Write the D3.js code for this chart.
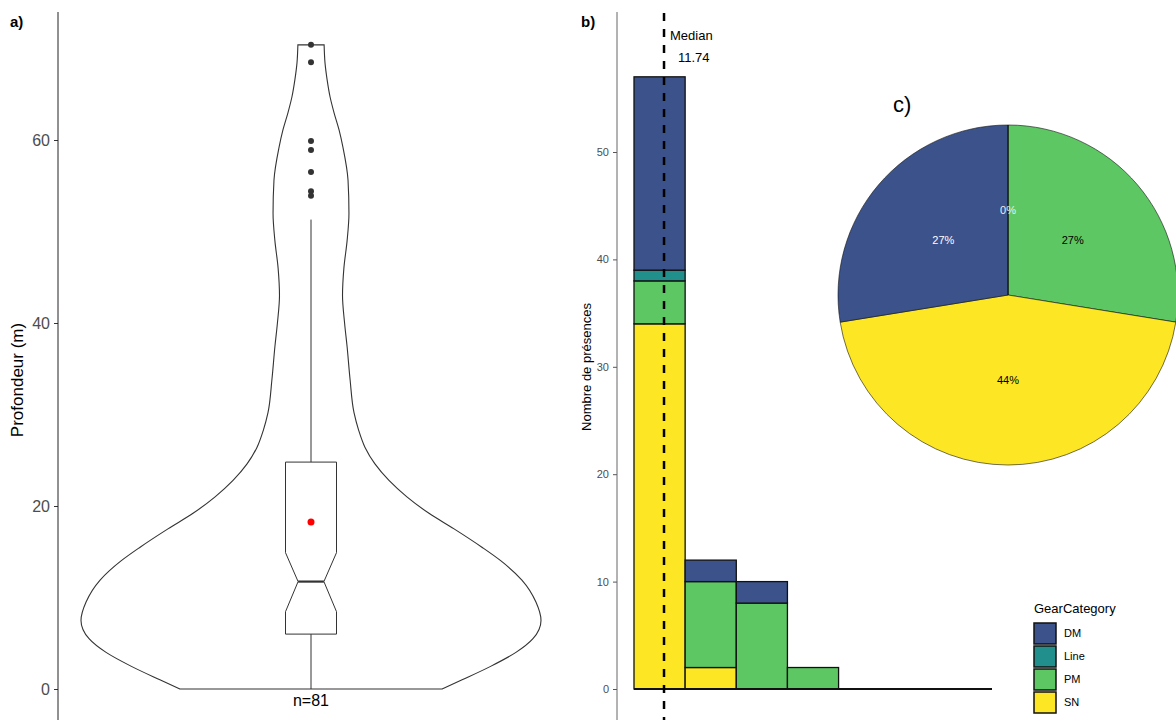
<!DOCTYPE html>
<html>
<head>
<meta charset="utf-8">
<script src="https://cdn.jsdelivr.net/npm/d3@7"></script>
<style>
  html, body { margin: 0; padding: 0; background: #fff; }
  svg { display: block; }
  text { font-family: "Liberation Sans", Arial, sans-serif; }
</style>
</head>
<body>
<svg id="chart" width="1176" height="720"></svg>
<script>
// ---------------- DATA ----------------
// Panel a: depth distribution (m)
const depthTicks = [0, 20, 40, 60];
const violinDepth   = [0, 1.0, 2.5, 4.0, 5.5, 7.5, 9.5, 11.9, 14.0, 15.5, 17.5, 19.2, 21.0, 22.8, 24.6, 26.4, 28.3, 30.2, 33.8, 37.4, 40.0, 43.0, 46.0, 49.0, 52.0, 55.6, 59.2, 61.1, 63.0, 64.7, 66.6, 68.4, 70.4];
const violinDensity = [0.570, 0.657, 0.783, 0.891, 0.965, 1.000, 0.978, 0.917, 0.826, 0.743, 0.622, 0.513, 0.417, 0.339, 0.278, 0.235, 0.207, 0.187, 0.170, 0.157, 0.146, 0.137, 0.143, 0.157, 0.165, 0.161, 0.139, 0.122, 0.100, 0.083, 0.070, 0.061, 0.057];
const boxWhiskerLow = 0;
const boxQ1 = 6.0;
const boxNotchLow = 8.45;
const boxMedian = 11.74;
const boxNotchHigh = 14.9;
const boxQ3 = 24.8;
const boxWhiskerHigh = 51.3;
const depthMean = 18.25;
const depthOutliers = [70.4, 68.5, 59.9, 58.9, 56.5, 54.4, 53.9];
const sampleLabel = "n=81";

// Panel b: stacked histogram
const binStart = [0, 20, 40, 60, 80, 100, 120];
const binWidth = 20;
const countDM   = [18, 2, 2, 0, 0, 0, 0];
const countLine = [1, 0, 0, 0, 0, 0, 0];
const countPM   = [4, 8, 8, 2, 0, 0, 0];
const countSN   = [34, 2, 0, 0, 0, 0, 0];
const countTicks = [0, 10, 20, 30, 40, 50];
const medianValue = 11.74;
const gearCategories = ["DM", "Line", "PM", "SN"];
const gearColors = ["#3B528B", "#21908C", "#5DC863", "#FDE725"];

// Panel c: pie shares (%), clockwise from 12 o'clock
const pieCategories = ["PM", "SN", "DM", "Line"];
const piePercent = [27, 44, 27, 0];
const pieLabelColors = ["#000000", "#000000", "#ffffff", "#eeeeee"];

// ---------------- DRAW ----------------
const svg = d3.select("#chart");
const color = d3.scaleOrdinal().domain(gearCategories).range(gearColors);

// ===== Panel a =====
const gA = svg.append("g");
const yA = d3.scaleLinear().domain([0, 60]).range([689, 140]);
const cxA = 311;
const wA = d3.scaleLinear().domain([0, 1]).range([0, 230]);

gA.append("text").attr("x", 10).attr("y", 27).attr("font-size", 15).attr("font-weight", "bold").text("a)");

const axA = gA.append("g").attr("transform", "translate(58,0)")
  .call(d3.axisLeft(yA).tickValues(depthTicks).tickSize(4).tickPadding(4));
axA.select(".domain").remove();
axA.selectAll(".tick line").attr("stroke", "#333");
axA.selectAll(".tick text").attr("font-size", 16).attr("fill", "#4d4d4d").attr("font-family", "Liberation Sans, Arial, sans-serif");
gA.append("line").attr("x1", 58).attr("x2", 58).attr("y1", 12).attr("y2", 720).attr("stroke", "#222").attr("stroke-width", 1);

gA.append("text")
  .attr("transform", `translate(23,380) rotate(-90)`)
  .attr("text-anchor", "middle").attr("font-size", 17).attr("fill", "#000")
  .text("Profondeur (m)");

const violinData = violinDepth.map((v, i) => ({ v, d: violinDensity[i] }));
const violinArea = d3.area()
  .curve(d3.curveMonotoneY)
  .y(d => yA(d.v))
  .x0(d => cxA - wA(d.d))
  .x1(d => cxA + wA(d.d));
gA.append("path").datum(violinData).attr("d", violinArea)
  .attr("fill", "none").attr("stroke", "#333").attr("stroke-width", 1.1);

// box
const hwBox = 25.5, hwNotch = 12.9;
const boxPath = d3.path();
boxPath.moveTo(cxA - hwBox, yA(boxQ3));
boxPath.lineTo(cxA - hwBox, yA(boxNotchHigh));
boxPath.lineTo(cxA - hwNotch, yA(boxMedian));
boxPath.lineTo(cxA - hwBox, yA(boxNotchLow));
boxPath.lineTo(cxA - hwBox, yA(boxQ1));
boxPath.lineTo(cxA + hwBox, yA(boxQ1));
boxPath.lineTo(cxA + hwBox, yA(boxNotchLow));
boxPath.lineTo(cxA + hwNotch, yA(boxMedian));
boxPath.lineTo(cxA + hwBox, yA(boxNotchHigh));
boxPath.lineTo(cxA + hwBox, yA(boxQ3));
boxPath.closePath();
gA.append("path").attr("d", boxPath.toString()).attr("fill", "#fff").attr("stroke", "#333").attr("stroke-width", 1);
gA.append("line").attr("x1", cxA - hwNotch).attr("x2", cxA + hwNotch).attr("y1", yA(boxMedian)).attr("y2", yA(boxMedian)).attr("stroke", "#333").attr("stroke-width", 2.2);
gA.append("line").attr("x1", cxA).attr("x2", cxA).attr("y1", yA(boxQ3)).attr("y2", yA(boxWhiskerHigh)).attr("stroke", "#333").attr("stroke-width", 1);
gA.append("line").attr("x1", cxA).attr("x2", cxA).attr("y1", yA(boxQ1)).attr("y2", yA(boxWhiskerLow)).attr("stroke", "#333").attr("stroke-width", 1);
gA.selectAll("circle.out").data(depthOutliers).join("circle")
  .attr("class", "out").attr("cx", cxA).attr("cy", d => yA(d)).attr("r", 3).attr("fill", "#333");
gA.append("circle").attr("cx", cxA).attr("cy", yA(depthMean)).attr("r", 3.5).attr("fill", "#ff0000");
gA.append("text").attr("x", cxA).attr("y", 706).attr("text-anchor", "middle").attr("font-size", 16).attr("fill", "#000").text(sampleLabel);

// ===== Panel b =====
const gB = svg.append("g");
const xB = d3.scaleLinear().domain([0, 140]).range([634, 992]);
const yB = d3.scaleLinear().domain([0, 50]).range([689, 152]);

gB.append("text").attr("x", 581).attr("y", 27).attr("font-size", 15).attr("font-weight", "bold").text("b)");

const axB = gB.append("g").attr("transform", "translate(617,0)")
  .call(d3.axisLeft(yB).tickValues(countTicks).tickSize(4).tickPadding(4));
axB.select(".domain").remove();
axB.selectAll(".tick line").attr("stroke", "#555");
axB.selectAll(".tick text").attr("font-size", 11).attr("fill", "#4d4d4d").attr("font-family", "Liberation Sans, Arial, sans-serif");
gB.append("line").attr("x1", 617).attr("x2", 617).attr("y1", 12).attr("y2", 720).attr("stroke", "#666").attr("stroke-width", 1);

gB.append("text")
  .attr("transform", `translate(591,367) rotate(-90)`)
  .attr("text-anchor", "middle").attr("font-size", 13).attr("fill", "#000")
  .text("Nombre de présences");

const rows = binStart.map((b, i) => ({ b, DM: countDM[i], Line: countLine[i], PM: countPM[i], SN: countSN[i] }));
const stack = d3.stack().keys(["SN", "PM", "Line", "DM"])(rows);
stack.forEach(layer => {
  gB.selectAll(null).data(layer.filter(d => d[1] > d[0])).join("rect")
    .attr("x", d => xB(d.data.b))
    .attr("width", d => xB(d.data.b + binWidth) - xB(d.data.b))
    .attr("y", d => yB(d[1]))
    .attr("height", d => yB(d[0]) - yB(d[1]))
    .attr("fill", color(layer.key))
    .attr("stroke", "#111").attr("stroke-width", 1.3);
});
gB.append("line").attr("x1", xB(binStart[0])).attr("x2", xB(binStart[binStart.length - 1] + binWidth))
  .attr("y1", yB(0)).attr("y2", yB(0)).attr("stroke", "#111").attr("stroke-width", 2);

gB.append("line").attr("x1", xB(medianValue)).attr("x2", xB(medianValue)).attr("y1", 13).attr("y2", 720)
  .attr("stroke", "#000").attr("stroke-width", 2.5).attr("stroke-dasharray", "8,8");
gB.append("text").attr("x", xB(medianValue) + 6).attr("y", 40).attr("font-size", 13).text("Median");
gB.append("text").attr("x", xB(medianValue) + 14).attr("y", 62).attr("font-size", 13).text(String(medianValue));

// legend
const lg = svg.append("g").attr("transform", "translate(1034,0)");
lg.append("text").attr("x", 0).attr("y", 613).attr("font-size", 13).text("GearCategory");
gearCategories.forEach((c, i) => {
  lg.append("rect").attr("x", 0).attr("y", 623 + i * 23).attr("width", 22).attr("height", 21)
    .attr("fill", color(c)).attr("stroke", "#111").attr("stroke-width", 1.5);
  lg.append("text").attr("x", 30).attr("y", 633 + i * 23 + 4).attr("font-size", 11).text(c);
});

// ===== Panel c =====
const gC = svg.append("g").attr("transform", "translate(1008,295)");
svg.append("text").attr("x", 893).attr("y", 112).attr("font-size", 22).attr("font-family", "Open Sans, sans-serif").text("c)");
const pieR = 170;
const pieData = pieCategories.map((c, i) => ({ c, v: piePercent[i], lc: pieLabelColors[i] }));
const arcs = d3.pie().sort(null).value(d => d.v).startAngle(0).endAngle(2 * Math.PI)(pieData);
const arcGen = d3.arc().innerRadius(0).outerRadius(pieR);
const labelArc = d3.arc().innerRadius(pieR / 2).outerRadius(pieR / 2);
gC.selectAll("path").data(arcs).join("path")
  .attr("d", arcGen).attr("fill", d => color(d.data.c)).attr("stroke", "#111").attr("stroke-width", 0.6);
gC.selectAll("text").data(arcs).join("text")
  .attr("transform", d => `translate(${labelArc.centroid(d)})`)
  .attr("text-anchor", "middle").attr("dy", "0.35em").attr("font-size", 11)
  .attr("fill", d => d.data.lc)
  .text(d => d.data.v + "%");
</script>
</body>
</html>
